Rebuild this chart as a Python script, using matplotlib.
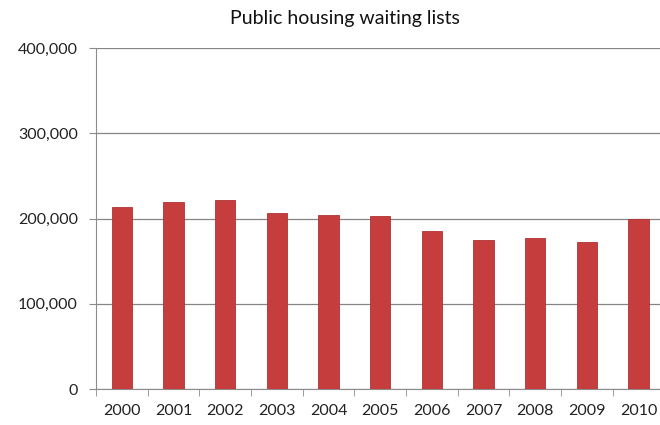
import matplotlib
matplotlib.use("Agg")
import matplotlib.pyplot as plt
from matplotlib.ticker import FuncFormatter, FixedLocator
import numpy as np

years = ["2000", "2001", "2002", "2003", "2004", "2005",
         "2006", "2007", "2008", "2009", "2010"]
waiting = [213000, 220000, 222000, 207000, 204000, 203000,
           186000, 175000, 177000, 173000, 200000]

plt.rcParams['font.family'] = ['Lato', 'DejaVu Sans']

fig = plt.figure(figsize=(6.6, 4.25), dpi=100)
ax = fig.add_axes([0.1455, 0.0847, 0.861, 0.802])

x = np.arange(len(years))
ax.bar(x, waiting, width=0.39, color='#C63D3E', edgecolor='#B03233',
       linewidth=0.6, zorder=3)

ax.set_xlim(-0.5, len(years) - 0.5)
ax.set_ylim(0, 400000)
ax.set_yticks([0, 100000, 200000, 300000, 400000])
ax.yaxis.set_major_formatter(FuncFormatter(lambda v, p: f"{int(v):,}"))
ax.set_xticks(x)
ax.set_xticklabels(years)
ax.xaxis.set_minor_locator(FixedLocator(np.arange(-0.5, len(years), 1.0)))

ax.grid(axis='y', color='#858585', linewidth=0.9, zorder=0)
for s in ['top', 'right']:
    ax.spines[s].set_visible(False)
ax.spines['left'].set_color('#8C8C8C')
ax.spines['bottom'].set_color('#8C8C8C')

ax.tick_params(axis='x', which='major', length=0, labelsize=11.5, pad=11,
               colors='#222222')
ax.tick_params(axis='x', which='minor', length=5, color='#8C8C8C')
ax.tick_params(axis='y', length=5, labelsize=11.5, pad=8,
               colors='#8C8C8C', labelcolor='#222222')

fig.text(0.522, 0.957, "Public housing waiting lists", ha='center',
         va='center', fontsize=14, color='#111111')

fig.savefig("out.png", dpi=100, facecolor='white')
